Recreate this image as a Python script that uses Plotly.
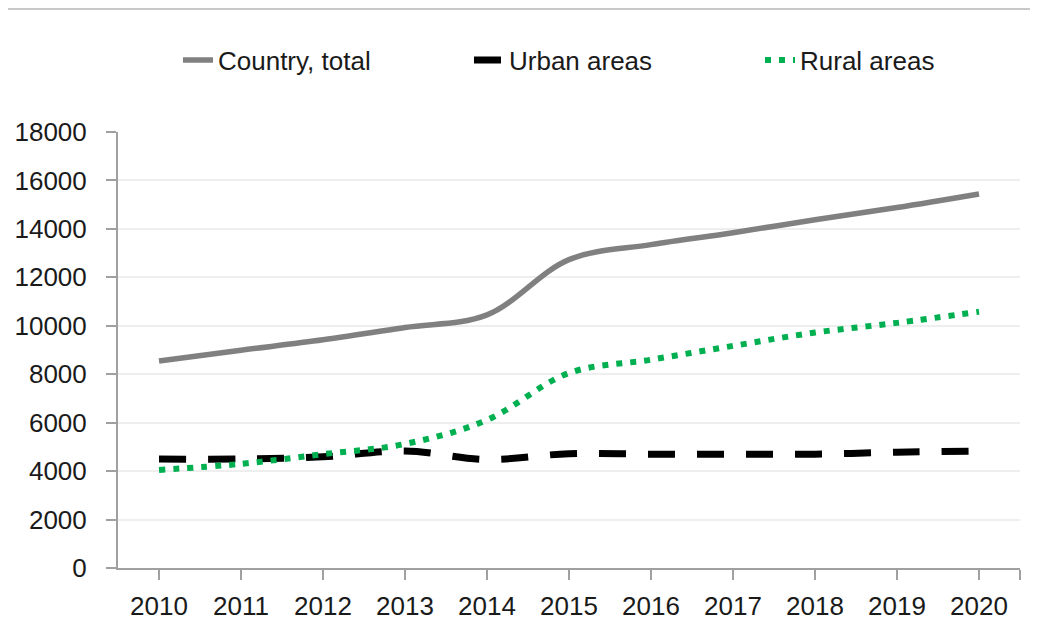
import plotly.graph_objects as go

years = [2010, 2011, 2012, 2013, 2014, 2015, 2016, 2017, 2018, 2019, 2020]
year_labels = [str(y) for y in years]
country_total = [8550, 8990, 9420, 9930, 10450, 12730, 13350, 13840, 14380, 14880, 15440]
urban_areas = [4500, 4500, 4590, 4830, 4480, 4720, 4700, 4700, 4700, 4780, 4830]
rural_areas = [4050, 4300, 4700, 5120, 6110, 8050, 8600, 9170, 9720, 10120, 10580]
y_ticks = [0, 2000, 4000, 6000, 8000, 10000, 12000, 14000, 16000, 18000]
y_labels = [str(v) for v in y_ticks]

FONT = "Liberation Sans, Arial, sans-serif"
TXT = "#1a1a1a"
AX = "#a0a0a0"

W, H = 1030, 622  # page body has an 8px margin
L, R, T, B = 110, 18, 124, 62
PH = H - T - B

fig = go.Figure()
fig.add_trace(go.Scatter(x=years, y=country_total, name="Country, total", mode="lines",
                         line=dict(color="#808080", width=5.5, shape="spline")))
fig.add_trace(go.Scatter(x=years, y=urban_areas, name="Urban areas", mode="lines",
                         line=dict(color="#000000", width=7, shape="spline", dash="27px,22px")))
fig.add_trace(go.Scatter(x=years, y=rural_areas, name="Rural areas", mode="lines",
                         line=dict(color="#00b050", width=6, shape="spline", dash="6px,8px")))

fig.update_layout(
    width=W, height=H,
    margin=dict(l=L, r=R, t=T, b=B, autoexpand=False),
    paper_bgcolor="white", plot_bgcolor="white",
    font=dict(family=FONT, size=26, color=TXT),
    showlegend=True,
    legend=dict(orientation="h", x=0.0665, y=(PH + T - 52) / PH, xanchor="left", yanchor="middle",
                entrywidth=246, entrywidthmode="pixels",
                font=dict(family=FONT, size=26, color=TXT), bgcolor="rgba(0,0,0,0)"),
    xaxis=dict(range=[2009.5, 2020.5], tickvals=years + [2020.5], ticktext=year_labels + [""],
               showgrid=False, showline=True, linecolor=AX, linewidth=2,
               ticks="outside", ticklen=10, tickcolor=AX, tickwidth=2,
               ticklabelstandoff=4, zeroline=False, fixedrange=True),
    yaxis=dict(range=[0, 18000], tickvals=y_ticks, ticktext=y_labels,
               showgrid=True, gridcolor="#eeeeee", gridwidth=1.5,
               showline=True, linecolor=AX, linewidth=2,
               ticks="outside", ticklen=10, tickcolor=AX, tickwidth=2,
               ticklabelstandoff=14, zeroline=False, fixedrange=True),
    shapes=[dict(type="line", xref="paper", yref="paper", x0=-0.13, x1=1.03,
                 y0=(PH + T - 1) / PH, y1=(PH + T - 1) / PH, line=dict(color="#c8c8c8", width=2))],
)

fig.write_html("out.html")
